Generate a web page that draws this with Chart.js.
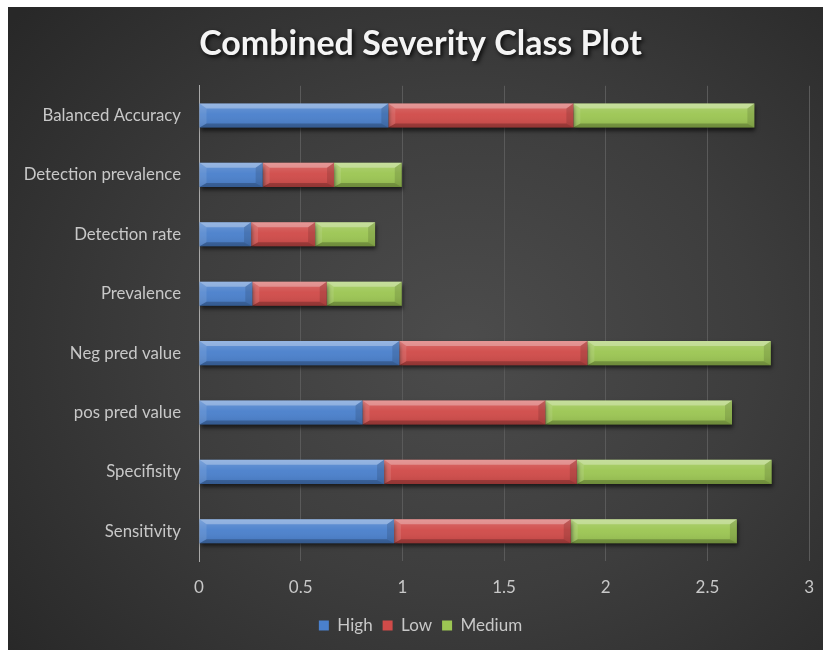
<!DOCTYPE html>
<html>
<head>
<meta charset="utf-8">
<title>Combined Severity Class Plot</title>
<script src="https://cdn.jsdelivr.net/npm/chart.js@4.4.1/dist/chart.umd.min.js"></script>
<style>
  html, body { margin: 0; padding: 0; background: #ffffff; }
  #frame {
    position: absolute; left: 8px; top: 7px; width: 815px; height: 643px;
    background: radial-gradient(ellipse 72% 78% at 56% 52%, #4c4c4c 0%, #3d3d3d 50%, #282828 100%);
  }
  canvas { display: block; }
</style>
</head>
<body>
<div id="frame"><canvas id="c" width="815" height="643"></canvas></div>
<script>
// Metrics per severity class, listed top to bottom as shown on the axis
const categories = [
  'Balanced Accuracy', 'Detection prevalence', 'Detection rate', 'Prevalence',
  'Neg pred value', 'pos pred value', 'Specifisity', 'Sensitivity'
];
const seriesNames = ['High', 'Low', 'Medium'];
const highValues   = [0.931, 0.313, 0.256, 0.262, 0.985, 0.804, 0.910, 0.959];
const lowValues    = [0.910, 0.351, 0.315, 0.366, 0.925, 0.899, 0.948, 0.869];
const mediumValues = [0.890, 0.333, 0.295, 0.369, 0.902, 0.918, 0.958, 0.817];
const xTicks = [0, 0.5, 1, 1.5, 2, 2.5, 3];

const FONT = "Lato, 'Open Sans', 'DejaVu Sans', sans-serif";
const TEXT = '#c8c8c8';

// Drop shadow under the bars, then a bevelled glossy face on every segment
const bevelBars = {
  id: 'bevelBars',
  beforeDatasetsDraw(chart) {
    const c = chart.ctx;
    c.save();
    c.shadowColor = 'rgba(0,0,0,0.6)';
    c.shadowBlur = 4;
    c.shadowOffsetX = 1;
    c.shadowOffsetY = 3;
  },
  afterDatasetsDraw(chart) {
    const c = chart.ctx;
    c.restore();
    chart.data.datasets.forEach((ds, i) => {
      const meta = chart.getDatasetMeta(i);
      if (meta.hidden) return;
      meta.data.forEach(el => {
        const p = el.getProps(['x', 'y', 'base', 'height'], true);
        const l = Math.min(p.x, p.base), r = Math.max(p.x, p.base);
        const t = p.y - p.height / 2, b = p.y + p.height / 2;
        const w = r - l;
        if (w <= 0) return;
        const bx = Math.min(7, w / 2), bt = 5, bb = 4;
        c.save();
        const g = c.createLinearGradient(0, t, 0, b);
        g.addColorStop(0, 'rgba(255,255,255,0.18)');
        g.addColorStop(0.45, 'rgba(255,255,255,0.04)');
        g.addColorStop(1, 'rgba(0,0,0,0.10)');
        c.fillStyle = g;
        c.fillRect(l, t, w, b - t);
        const poly = (pts, fill) => {
          c.beginPath();
          c.moveTo(pts[0][0], pts[0][1]);
          for (let k = 1; k < pts.length; k++) c.lineTo(pts[k][0], pts[k][1]);
          c.closePath();
          c.fillStyle = fill;
          c.fill();
        };
        poly([[l, t], [r, t], [r - bx, t + bt], [l + bx, t + bt]], 'rgba(255,255,255,0.30)');
        poly([[l, b], [r, b], [r - bx, b - bb], [l + bx, b - bb]], 'rgba(0,0,0,0.22)');
        poly([[l, t], [l + bx, t + bt], [l + bx, b - bb], [l, b]], 'rgba(255,255,255,0.10)');
        poly([[r, t], [r - bx, t + bt], [r - bx, b - bb], [r, b]], 'rgba(0,0,0,0.12)');
        c.restore();
      });
    });
  }
};

// Soft dark shadow behind the title text only
const titleShadow = {
  id: 'titleShadow',
  afterLayout(chart) {
    const tb = chart.titleBlock;
    if (!tb || tb._shadowed) return;
    const orig = tb.draw.bind(tb);
    tb.draw = function () {
      const c = chart.ctx;
      c.save();
      c.shadowColor = 'rgba(0,0,0,0.85)';
      c.shadowBlur = 4;
      c.shadowOffsetX = 2;
      c.shadowOffsetY = 2;
      orig();
      c.restore();
    };
    tb._shadowed = true;
  }
};

const colors = ['#4a80cc', '#d04b49', '#9cc653'];

new Chart(document.getElementById('c'), {
  type: 'bar',
  data: {
    labels: categories,
    datasets: [
      { label: seriesNames[0], data: highValues,   backgroundColor: colors[0] },
      { label: seriesNames[1], data: lowValues,    backgroundColor: colors[1] },
      { label: seriesNames[2], data: mediumValues, backgroundColor: colors[2] }
    ]
  },
  options: {
    indexAxis: 'y',
    responsive: false,
    animation: false,
    devicePixelRatio: 1,
    layout: { padding: { left: 12, right: 2, top: 0, bottom: 6 } },
    datasets: { bar: { barPercentage: 0.405, categoryPercentage: 1, borderWidth: 0 } },
    scales: {
      x: {
        stacked: true,
        min: 0, max: 3,
        afterBuildTicks(scale) { scale.ticks = xTicks.map(v => ({ value: v })); },
        afterFit(scale) { scale.height = 46; },
        grid: { color: '#5a5a5a', lineWidth: 1, drawTicks: true, tickLength: 7, tickColor: 'rgba(0,0,0,0)' },
        border: { display: false },
        ticks: {
          color: TEXT, padding: 9, font: { family: FONT, size: 17 },
          callback: v => String(v)
        }
      },
      y: {
        stacked: true,
        afterFit(scale) { scale.width = 179; },
        grid: { display: false, drawTicks: false },
        border: { display: true, color: '#a9a9a9', width: 1 },
        ticks: { color: TEXT, padding: 18, font: { family: FONT, size: 16.8 } }
      }
    },
    plugins: {
      title: {
        display: true,
        text: 'Combined Severity Class Plot',
        color: '#f4f4f4',
        font: { family: FONT, size: 34, weight: 'bold', lineHeight: 1.2 },
        padding: { top: 17, bottom: 21 }
      },
      legend: {
        position: 'bottom',
        labels: {
          color: TEXT, boxWidth: 10, boxHeight: 10, padding: 10,
          font: { family: FONT, size: 17 }
        }
      },
      tooltip: { enabled: false }
    }
  },
  plugins: [bevelBars, titleShadow]
});
</script>
</body>
</html>
